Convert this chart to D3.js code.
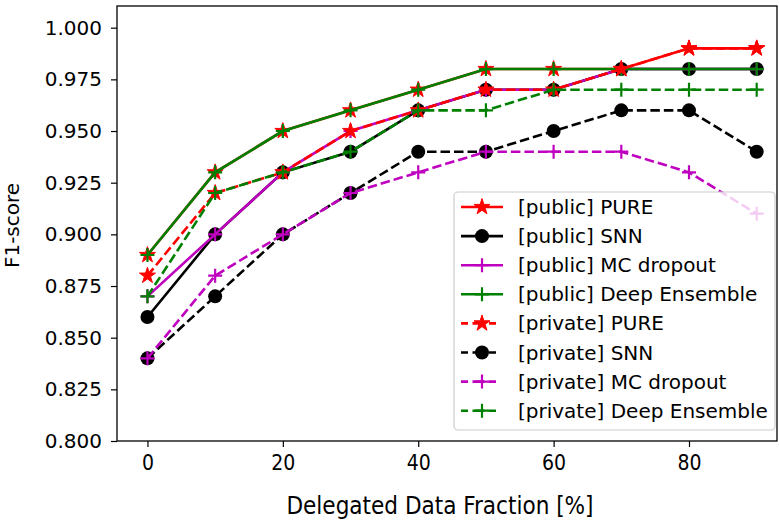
<!doctype html>
<html lang="en">
<head>
  <meta charset="utf-8">
  <title>F1-score vs delegated data fraction</title>
  <script src="https://cdn.jsdelivr.net/npm/d3@7"></script>
  <style>
    body { margin: 0; background: #fff; }
    text { font-family: "DejaVu Sans", sans-serif; fill: #000; }
    .xtick text, .xlabel { font-family: "DejaVu Sans Condensed", "DejaVu Sans", sans-serif; font-stretch: condensed; }
  </style>
</head>
<body>
<div id="chart"></div>
<script>
// data
var fractions = [0, 10, 20, 30, 40, 50, 60, 70, 80, 90];
var xTicks = [0, 20, 40, 60, 80];
var yTicks = [0.800, 0.825, 0.850, 0.875, 0.900, 0.925, 0.950, 0.975, 1.000];

var publicPure  = [0.89, 0.93, 0.95, 0.96, 0.97, 0.98, 0.98, 0.98, 0.99, 0.99];
var publicSnn   = [0.86, 0.90, 0.93, 0.94, 0.96, 0.97, 0.97, 0.98, 0.98, 0.98];
var publicMc    = [0.87, 0.90, 0.93, 0.95, 0.96, 0.97, 0.97, 0.98, 0.98, 0.98];
var publicDe    = [0.89, 0.93, 0.95, 0.96, 0.97, 0.98, 0.98, 0.98, 0.98, 0.98];
var privatePure = [0.88, 0.92, 0.93, 0.95, 0.96, 0.97, 0.97, 0.98, 0.99, 0.99];
var privateSnn  = [0.84, 0.87, 0.90, 0.92, 0.94, 0.94, 0.95, 0.96, 0.96, 0.94];
var privateMc   = [0.84, 0.88, 0.90, 0.92, 0.93, 0.94, 0.94, 0.94, 0.93, 0.91];
var privateDe   = [0.87, 0.92, 0.93, 0.94, 0.96, 0.96, 0.97, 0.97, 0.97, 0.97];

var series = [
  {name: "[public] PURE",          values: publicPure,  color: "#ff0000", marker: "star",   dashed: false},
  {name: "[public] SNN",           values: publicSnn,   color: "#000000", marker: "circle", dashed: false},
  {name: "[public] MC dropout",    values: publicMc,    color: "#bf00bf", marker: "plus",   dashed: false},
  {name: "[public] Deep Ensemble", values: publicDe,    color: "#008000", marker: "plus",   dashed: false},
  {name: "[private] PURE",         values: privatePure, color: "#ff0000", marker: "star",   dashed: true},
  {name: "[private] SNN",          values: privateSnn,  color: "#000000", marker: "circle", dashed: true},
  {name: "[private] MC dropout",   values: privateMc,   color: "#bf00bf", marker: "plus",   dashed: true},
  {name: "[private] Deep Ensemble",values: privateDe,   color: "#008000", marker: "plus",   dashed: true}
];

var width = 779, height = 522;
var mLeft = 117, mRight = 777, mTop = 6, mBottom = 441;

var svg = d3.select("#chart").append("svg")
  .attr("width", width)
  .attr("height", height);

var x = d3.scaleLinear().domain([-4.5, 93]).range([mLeft, mRight]);
var y = d3.scaleLinear().domain([0.8, 1.0105]).range([mBottom, mTop]);

// axes
var xAxis = svg.append("g")
  .attr("class", "xtick")
  .attr("transform", "translate(0," + mBottom + ")")
  .call(d3.axisBottom(x).tickValues(xTicks).tickSize(6).tickPadding(8).tickFormat(d3.format("d")));
xAxis.select(".domain").remove();
xAxis.selectAll("text").style("font-size", "21px");

var yAxis = svg.append("g")
  .attr("transform", "translate(" + mLeft + ",0)")
  .call(d3.axisLeft(y).tickValues(yTicks).tickSize(6).tickPadding(9).tickFormat(d3.format(".3f")));
yAxis.select(".domain").remove();
yAxis.selectAll("text").style("font-size", "20px");

svg.selectAll(".tick line").attr("stroke", "#000").attr("stroke-width", 1.2);

svg.append("text")
  .attr("class", "xlabel")
  .attr("x", 440)
  .attr("y", 514)
  .attr("text-anchor", "middle")
  .style("font-size", "24px")
  .text("Delegated Data Fraction [%]");

svg.append("text")
  .attr("transform", "translate(19," + ((mTop + mBottom) / 2 + 2) + ") rotate(-90)")
  .attr("text-anchor", "middle")
  .style("font-size", "20px")
  .text("F1-score");

var plot = svg.append("g");
plot.append("clipPath").attr("id", "clip")
  .append("rect").attr("x", mLeft).attr("y", mTop).attr("width", mRight - mLeft).attr("height", mBottom - mTop);

var line = d3.line()
  .x(function(d, i) { return x(fractions[i]); })
  .y(function(d) { return y(d); });

var starSym = d3.symbol().type(d3.symbolStar).size(80);

function drawMarker(g, kind, color, px, py) {
  if (kind === "star") {
    g.append("path").attr("d", starSym()).attr("transform", "translate(" + px + "," + py + ")")
      .attr("fill", color).attr("stroke", color).attr("stroke-width", 1);
  } else if (kind === "circle") {
    g.append("circle").attr("cx", px).attr("cy", py).attr("r", 7).attr("fill", color);
  } else {
    g.append("path").attr("d", "M" + (px - 7) + "," + py + "H" + (px + 7) + "M" + px + "," + (py - 7) + "V" + (py + 7))
      .attr("stroke", color).attr("stroke-width", 2.2).attr("fill", "none");
  }
}

// each series: line then its markers, like matplotlib draws them
series.forEach(function(s) {
  var g = plot.append("g").attr("clip-path", "url(#clip)");
  g.append("path")
    .attr("d", line(s.values))
    .attr("fill", "none")
    .attr("stroke", s.color)
    .attr("stroke-width", 2.6)
    .attr("stroke-dasharray", s.dashed ? "9.5,4" : null);
  s.values.forEach(function(v, i) {
    drawMarker(g, s.marker, s.color, x(fractions[i]), y(v));
  });
});

// frame
svg.append("rect")
  .attr("x", mLeft).attr("y", mTop)
  .attr("width", mRight - mLeft).attr("height", mBottom - mTop)
  .attr("fill", "none").attr("stroke", "#000").attr("stroke-width", 1.3);

// legend
var lg = svg.append("g");
lg.append("rect")
  .attr("x", 454).attr("y", 192)
  .attr("width", 321).attr("height", 238)
  .attr("rx", 4)
  .attr("fill", "#fff").attr("fill-opacity", 0.8)
  .attr("stroke", "#cccccc").attr("stroke-width", 1.2);

series.forEach(function(s, i) {
  var ly = 207 + i * 29.1;
  lg.append("path")
    .attr("d", "M461," + ly + "H503")
    .attr("stroke", s.color)
    .attr("stroke-width", 2.6)
    .attr("stroke-dasharray", s.dashed ? "7,4.5,12,4.5,7" : null);
  drawMarker(lg, s.marker, s.color, 482, ly);
  lg.append("text")
    .attr("x", 518).attr("y", ly)
    .attr("dy", "0.35em")
    .style("font-size", "20px")
    .text(s.name);
});
</script>
</body>
</html>
